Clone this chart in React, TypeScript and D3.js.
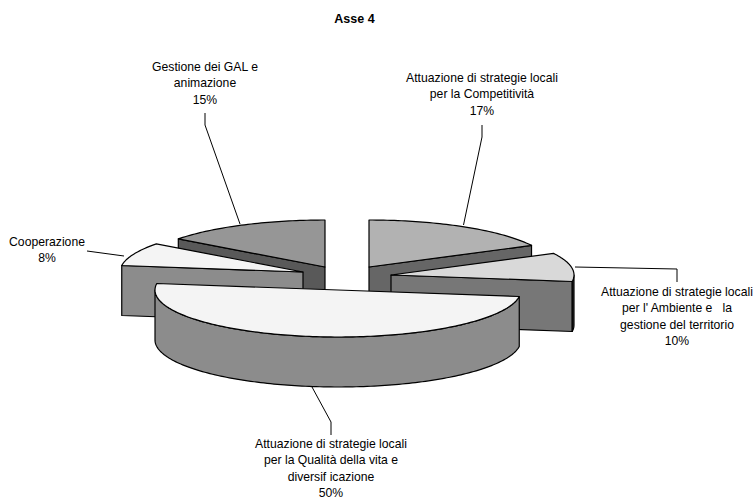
import React from 'react';
import * as d3 from 'd3';

// valori (le etichette li arrotondano)
const categories = [
  ['Attuazione di strategie locali', 'per la Competitività'],
  ["Attuazione di strategie locali", "per l' Ambiente e\u00a0\u00a0 la", 'gestione del territorio'],
  ['Attuazione di strategie locali', 'per la Qualità della vita e', 'diversif icazione'],
  ['Cooperazione'],
  ['Gestione dei GAL e', 'animazione'],
];
const values = [17.4, 9.8, 50, 8, 14.8];

const topColors = ['#b2b2b2', '#d9d9d9', '#f4f4f4', '#f4f4f4', '#969696'];
const faceColors = ['#666666', '#777777', '#8c8c8c', '#8c8c8c', '#595959'];
const wallColors = ['#666666', '#333333', '#8c8c8c', '#8c8c8c', '#595959'];

// layout: vertice di ogni fetta esplosa
const apexes = [[369, 267], [391, 275], [338, 290], [303, 272], [325, 267]];
const labelCx = [482, 677, 331, 47, 205];
const labelY = [82, 296, 448, 246, 71];
const lineGap = 16.3;
const leaders = [
  [[482, 125], [482, 137], [463.5, 225]],
  [[575, 267], [677, 269], [677, 282]],
  [[312, 387], [331, 422], [331, 435]],
  [[87, 251], [124, 256]],
  [[205, 113], [205, 125], [240, 224]],
];
const drawOrder = [4, 0, 1, 3, 2];

const rx = 183;
const ry = 47;
const depth = 50;

const W = 755;
const H = 500;
const FONT = '"Liberation Sans", Arial, sans-serif';

const pieGen = d3.pie<number>().sort(null).value(d => d);
const slices = pieGen(values);
const line = d3.line();

const arcPoints = (i: number, a0: number, a1: number, dy = 0): [number, number][] => {
  const [cx, cy] = apexes[i];
  const n = Math.max(2, Math.ceil((a1 - a0) / 0.02));
  const t = d3.scaleLinear().domain([0, n]).range([a0, a1]);
  return d3.range(n + 1).map(k => {
    const a = t(k);
    return [cx + rx * Math.sin(a), cy - ry * Math.cos(a) + dy] as [number, number];
  });
};

const facePath = (i: number, a: number) => {
  const [cx, cy] = apexes[i];
  const p = arcPoints(i, a, a)[0];
  return line([[cx, cy], p, [p[0], p[1] + depth], [cx, cy + depth]]) + 'Z';
};

const Slice = ({ i }: { i: number }) => {
  const { startAngle: a0, endAngle: a1 } = slices[i];
  const [cx, cy] = apexes[i];
  const wall0 = Math.max(a0, Math.PI / 2);
  const wall1 = Math.min(a1, (3 * Math.PI) / 2);
  const hasWall = wall1 > wall0;
  return (
    <g stroke="#000" strokeWidth={1.2} strokeLinejoin="round">
      {Math.sin(a1) > 0 && <path d={facePath(i, a1)} fill={faceColors[i]} />}
      {Math.sin(a0) < 0 && <path d={facePath(i, a0)} fill={faceColors[i]} />}
      {hasWall && (
        <path
          d={line([...arcPoints(i, wall0, wall1), ...arcPoints(i, wall0, wall1, depth).reverse()]) + 'Z'}
          fill={wallColors[i]}
        />
      )}
      <path d={line([[cx, cy], ...arcPoints(i, a0, a1)]) + 'Z'} fill={topColors[i]} />
    </g>
  );
};

export default function App() {
  return (
    <svg width={W} height={H} style={{ position: 'absolute', left: 0, top: 0, background: '#fff' }} fontFamily={FONT}>
      <text x={354.5} y={23} textAnchor="middle" fontSize={12.5} fontWeight="bold" fill="#000">Asse 4</text>
      {drawOrder.map(i => <Slice key={i} i={i} />)}
      {leaders.map((pts, i) => (
        <path key={i} d={line(pts as [number, number][]) || ''} fill="none" stroke="#000" strokeWidth={1} />
      ))}
      {categories.map((lines, i) => (
        <text key={i} textAnchor="middle" fontSize={12.2} fill="#000">
          {[...lines, `${Math.round(values[i])}%`].map((s, k) => (
            <tspan key={k} x={labelCx[i]} y={labelY[i] + k * lineGap}>{s}</tspan>
          ))}
        </text>
      ))}
    </svg>
  );
}
